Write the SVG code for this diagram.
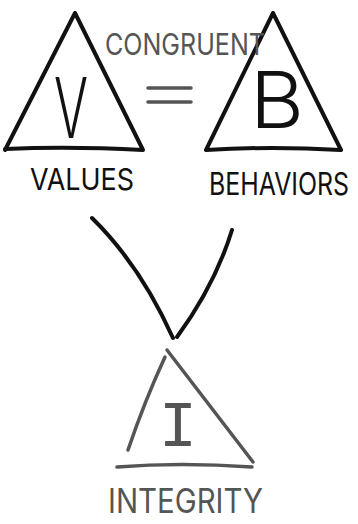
<svg xmlns="http://www.w3.org/2000/svg" width="358" height="524" viewBox="0 0 358 524">
<style>
.ink{fill:none;stroke:#111;stroke-width:4;stroke-linecap:round;stroke-linejoin:round}
.gray{fill:none;stroke:#555;stroke-width:3.5;stroke-linecap:round;stroke-linejoin:round}
.big{font-family:Inter,"Liberation Sans",sans-serif;font-weight:300;text-anchor:middle}
.lbl{font-family:Inter,"DejaVu Sans",sans-serif;font-weight:400}
</style>
<rect width="358" height="524" fill="#fff"/>
<g id="values">
<path class="ink" d="M75,13 L5,150 M75,13 L143,150 M5,149 Q70,146 143,150"/>
<text class="big" x="71" y="138" font-size="84" fill="#111" textLength="34" lengthAdjust="spacingAndGlyphs">V</text>
<text class="lbl" transform="translate(30,190) scale(1,1.25)" x="0" y="0" font-size="24" fill="#111" textLength="104" lengthAdjust="spacingAndGlyphs">VALUES</text>
</g>
<g id="behaviors">
<path class="ink" d="M273,13 L206,150 M273,13 L341,150 M206,150 Q270,146 341,150"/>
<text class="big" x="277" y="128" font-size="78" fill="#111" textLength="54" lengthAdjust="spacingAndGlyphs">B</text>
<text class="lbl" transform="translate(209,195) scale(1,1.35)" x="0" y="0" font-size="23" fill="#111" textLength="140" lengthAdjust="spacingAndGlyphs">BEHAVIORS</text>
</g>
<g id="congruent">
<text class="lbl" transform="translate(105,55) scale(1,1.2)" x="0" y="0" font-size="25" fill="#555" textLength="160" lengthAdjust="spacingAndGlyphs">CONGRUENT</text>
<path class="gray" d="M148,88 L191,88 M148,102 L191,102"/>
</g>
<g id="connectors">
<path class="ink" d="M92,218 Q140,265 173,338 M232,230 Q215,285 177,337"/>
</g>
<g id="integrity">
<path class="gray" d="M167,350 L253,462 M165,357 Q145,400 128,450 M117,467 Q180,462 252,467"/>
<text x="178" y="446" font-family="'Liberation Mono','DejaVu Sans Mono',monospace" font-size="64" fill="#555" text-anchor="middle">I</text>
<text class="lbl" transform="translate(108,513) scale(1,1.3)" x="0" y="0" font-size="26" fill="#555" textLength="155" lengthAdjust="spacingAndGlyphs">INTEGRITY</text>
</g>
</svg>
